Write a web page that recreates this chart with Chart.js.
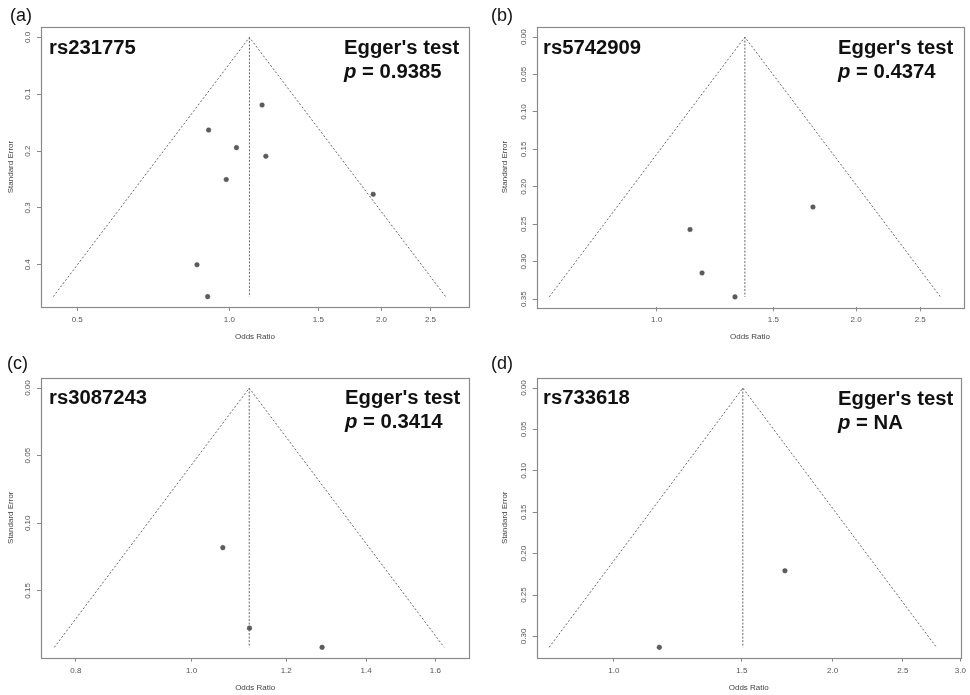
<!DOCTYPE html>
<html>
<head>
<meta charset="utf-8">
<script src="https://cdn.jsdelivr.net/npm/chart.js@4.4.1/dist/chart.umd.min.js"></script>
<style>
  body { margin: 0; background: #fff; font-family: "Liberation Sans", Arial, sans-serif; }
  #wrap { position: relative; width: 970px; height: 695px; overflow: hidden; }
  canvas { position: absolute; }
  .tag { position: absolute; font-size: 18px; line-height: 18px; color: #111; }
  .snp { position: absolute; font-size: 20.3px; line-height: 20px; font-weight: bold; color: #111; }
  .egg { position: absolute; font-size: 20.3px; line-height: 24.4px; font-weight: bold; color: #111; white-space: nowrap; }
</style>
</head>
<body>
<div id="wrap">
  <canvas id="ca" width="485" height="348" style="left:0;top:0"></canvas>
  <canvas id="cb" width="485" height="348" style="left:485px;top:0"></canvas>
  <canvas id="cc" width="485" height="355" style="left:0;top:340px"></canvas>
  <canvas id="cd" width="485" height="355" style="left:485px;top:340px"></canvas>

  <div class="tag" style="left:10px;top:6px">(a)</div>
  <div class="tag" style="left:491px;top:6px">(b)</div>
  <div class="tag" style="left:7px;top:354px">(c)</div>
  <div class="tag" style="left:491px;top:354px">(d)</div>

  <div class="snp" style="left:49px;top:36.5px">rs231775</div>
  <div class="snp" style="left:543px;top:36.5px">rs5742909</div>
  <div class="snp" style="left:49px;top:387px">rs3087243</div>
  <div class="snp" style="left:543px;top:387px">rs733618</div>

  <div class="egg" style="left:344px;top:35px">Egger's test<br><i>p</i> = 0.9385</div>
  <div class="egg" style="left:838px;top:35px">Egger's test<br><i>p</i> = 0.4374</div>
  <div class="egg" style="left:345px;top:385px">Egger's test<br><i>p</i> = 0.3414</div>
  <div class="egg" style="left:838px;top:386px">Egger's test<br><i>p</i> = NA</div>
</div>
<script>
// (a) rs231775
const orA = [1.161, 0.910, 1.033, 1.181, 0.986, 1.926, 0.863, 0.906];
const seA = [0.119, 0.163, 0.194, 0.209, 0.250, 0.276, 0.400, 0.456];
const pooledA = 1.096;
const xTicksA = [0.5, 1.0, 1.5, 2.0, 2.5];
const yTicksA = [0, 0.1, 0.2, 0.3, 0.4];
const xlimA = [0.424, 2.98];

// (b) rs5742909
const orB = [1.722, 1.123, 1.171, 1.313];
const seB = [0.227, 0.257, 0.315, 0.347];
const pooledB = 1.359;
const xTicksB = [1.0, 1.5, 2.0, 2.5];
const yTicksB = [0, 0.05, 0.10, 0.15, 0.20, 0.25, 0.30, 0.35];
const xlimB = [0.659, 2.904];

// (c) rs3087243
const orC = [1.062, 1.118, 1.286];
const seC = [0.118, 0.1775, 0.1917];
const pooledC = 1.1175;
const xTicksC = [0.8, 1.0, 1.2, 1.4, 1.6];
const yTicksC = [0, 0.05, 0.10, 0.15];
const xlimC = [0.748, 1.708];

// (d) rs733618
const orD = [1.72, 1.155];
const seD = [0.2207, 0.3132];
const pooledD = 1.505;
const xTicksD = [1.0, 1.5, 2.0, 2.5, 3.0];
const yTicksD = [0, 0.05, 0.10, 0.15, 0.20, 0.25, 0.30];
const xlimD = [0.783, 3.003];

const FONT = '"Liberation Sans", Arial, sans-serif';

// plot frame, R style box
const boxPlugin = {
  id: 'box',
  afterDraw(chart) {
    const { ctx, chartArea: a } = chart;
    ctx.save();
    ctx.strokeStyle = '#8a8a8a';
    ctx.lineWidth = 1.2;
    ctx.strokeRect(Math.round(a.left) + 0.5, Math.round(a.top) + 0.5,
      Math.round(a.right - a.left), Math.round(a.bottom - a.top));
    ctx.restore();
  }
};

// y tick labels drawn parallel to the axis, like R
const yLabelPlugin = {
  id: 'yLabels',
  afterDraw(chart, args, opts) {
    const s = chart.scales.y, ctx = chart.ctx;
    ctx.save();
    ctx.fillStyle = '#555';
    ctx.font = '8px ' + FONT;
    ctx.textAlign = 'center';
    ctx.textBaseline = 'middle';
    s.ticks.forEach(t => {
      ctx.save();
      ctx.translate(chart.chartArea.left - 13, s.getPixelForValue(t.value));
      ctx.rotate(-Math.PI / 2);
      ctx.fillText(t.value.toFixed(opts.decimals), 0, 0);
      ctx.restore();
    });
    ctx.restore();
  }
};

function funnel(id, p) {
  const canvas = document.getElementById(id);
  const W = canvas.width, H = canvas.height;
  const seMax = Math.max(...p.se);
  const lc = Math.log(p.pooled);
  const tri = [
    { x: Math.exp(lc - 1.96 * seMax), y: seMax },
    { x: p.pooled, y: 0 },
    { x: Math.exp(lc + 1.96 * seMax), y: seMax }
  ];
  const mid = [{ x: p.pooled, y: 0 }, { x: p.pooled, y: seMax }];
  const pts = p.or.map((v, i) => ({ x: v, y: p.se[i] }));

  return new Chart(canvas, {
    type: 'scatter',
    data: {
      datasets: [
        { type: 'line', data: tri, borderColor: '#666', borderWidth: 1, borderDash: [2, 2], pointRadius: 0, fill: false },
        { type: 'line', data: mid, borderColor: '#666', borderWidth: 1, borderDash: [2, 1.5], pointRadius: 0, fill: false },
        { data: pts, pointRadius: 2.3, backgroundColor: '#5c5c5c', borderColor: '#4a4a4a', borderWidth: 0.5 }
      ]
    },
    options: {
      responsive: false,
      animation: false,
      events: [],
      plugins: { legend: { display: false }, tooltip: { enabled: false }, yLabels: { decimals: p.yDec } },
      layout: { padding: { top: p.area.top, right: W - p.area.right, left: 0, bottom: 0 } },
      scales: {
        x: {
          type: 'logarithmic',
          bounds: 'data',
          min: p.xlim[0], max: p.xlim[1],
          afterBuildTicks: s => { s.ticks = p.xTicks.map(v => ({ value: v })); },
          afterFit: s => { s.height = H - p.area.bottom; },
          ticks: { autoSkip: false, maxRotation: 0, padding: 4, color: '#555', font: { size: 8, family: FONT },
                   callback: v => Number(v).toFixed(1) },
          grid: { drawOnChartArea: false, drawTicks: true, tickLength: 4, color: '#888' },
          border: { display: false },
          title: { display: true, text: 'Odds Ratio', color: '#444', font: { size: 8, family: FONT },
                   padding: { top: 0, bottom: p.xTitlePad } }
        },
        y: {
          type: 'linear',
          bounds: 'data',
          reverse: true,
          min: -0.04 * seMax, max: 1.04 * seMax,
          afterBuildTicks: s => { s.ticks = p.yTicks.map(v => ({ value: v })); },
          afterFit: s => { s.width = p.area.left; },
          ticks: { display: false },
          grid: { drawOnChartArea: false, drawTicks: true, tickLength: 4, color: '#888' },
          border: { display: false },
          title: { display: true, text: 'Standard Error', color: '#444', font: { size: 8, family: FONT },
                   padding: { top: p.yTitlePad, bottom: 0 } }
        }
      }
    },
    plugins: [boxPlugin, yLabelPlugin]
  });
}

funnel('ca', { or: orA, se: seA, pooled: pooledA, xTicks: xTicksA, yTicks: yTicksA, xlim: xlimA, yDec: 1,
  area: { left: 41, top: 27, right: 469, bottom: 307 }, xTitlePad: 6.2, yTitlePad: 6.2 });
funnel('cb', { or: orB, se: seB, pooled: pooledB, xTicks: xTicksB, yTicks: yTicksB, xlim: xlimB, yDec: 2,
  area: { left: 51.7, top: 26.7, right: 478.3, bottom: 307.3 }, xTitlePad: 6.2, yTitlePad: 15.2 });
funnel('cc', { or: orC, se: seC, pooled: pooledC, xTicks: xTicksC, yTicks: yTicksC, xlim: xlimC, yDec: 2,
  area: { left: 41, top: 37.7, right: 469.3, bottom: 317.7 }, xTitlePad: 2.2, yTitlePad: 5.9 });
funnel('cd', { or: orD, se: seD, pooled: pooledD, xTicks: xTicksD, yTicks: yTicksD, xlim: xlimD, yDec: 2,
  area: { left: 51.7, top: 37.7, right: 478.3, bottom: 317.7 }, xTitlePad: 2.2, yTitlePad: 15.2 });
</script>
</body>
</html>
